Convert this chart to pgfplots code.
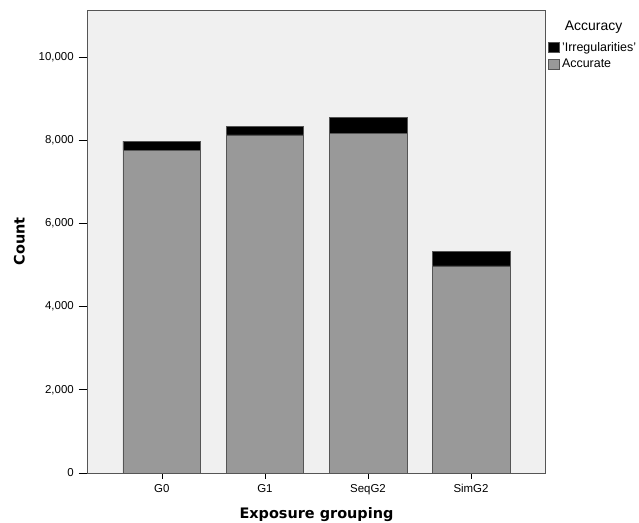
\documentclass[border=0pt]{standalone}
\usepackage{fontspec}
\setmainfont{Liberation Sans}
\newfontfamily\labfont{DejaVu Sans}
\usepackage{pgfplots}
\pgfplotsset{compat=1.18}
\definecolor{bgc}{HTML}{F0F0F0}
\definecolor{acc}{HTML}{999999}
\definecolor{frm}{HTML}{555555}
\pgfplotsset{sq legend/.style={legend image code/.code={\draw[##1, draw=frm, line width=0.6pt] (0bp,-5bp) rectangle (11bp,5bp);}}}
\begin{document}
\begin{tikzpicture}[x=1bp,y=1bp]
\useasboundingbox (-87.7,-50) rectangle (551.3,473);
\begin{axis}[
  at={(0,0)}, anchor=south west,
  scale only axis,
  width=457.5bp, height=463bp,
  clip=false,
  ybar stacked,
  bar width=0.755,
  xmin=-0.72, xmax=3.72,
  ymin=0, ymax=11130,
  xtick={0,1,2,3},
  xticklabels={G0,G1,SeqG2,SimG2},
  ytick={0,2000,4000,6000,8000,10000},
  /pgf/number format/assume math mode=true,
  /pgf/number format/1000 sep={,},
  scaled y ticks=false,
  tick label style={font=\fontsize{11.5}{13}\selectfont},
  yticklabel style={inner sep=0.5bp, xshift=-9bp},
  xticklabel style={inner sep=1.5bp, yshift=-5.5bp},
  tick align=outside,
  xtick style={black, line width=0.7pt, /pgfplots/major tick length=6bp},
  ytick style={black, line width=0.7pt, /pgfplots/major tick length=9bp},
  xtick pos=bottom, ytick pos=left,
  axis background/.style={fill=bgc},
  axis line style={frm, line width=0.7pt},
  xlabel={Exposure grouping},
  ylabel={Count},
  label style={font=\labfont\bfseries\fontsize{14.5}{16}\selectfont},
  xlabel style={at={(axis description cs:0.5,0)}, anchor=base, yshift=-45bp},
  ylabel style={at={(axis description cs:0,0.5)}, anchor=base, yshift=63bp},
  legend style={at={(axis description cs:1.0066,0.935)}, anchor=north west, draw=none, fill=none,
    font=\fontsize{12.5}{14}\selectfont, row sep=2bp, inner sep=0pt},
  legend cell align=left,
  reverse legend,
]
\addplot[fill=acc, draw=frm, line width=0.7pt, sq legend] coordinates {(0,7760) (1,8125) (2,8165) (3,4976)};
\addplot[fill=black, draw=frm, line width=0.7pt, sq legend] coordinates {(0,220) (1,210) (2,385) (3,353)};
\legend{Accurate,{'Irregularities'}}
\node[anchor=center, inner sep=0pt, font=\fontsize{14}{16}\selectfont] at (axis description cs:1.1058,0.962) {Accuracy};
\end{axis}
\end{tikzpicture}
\end{document}
